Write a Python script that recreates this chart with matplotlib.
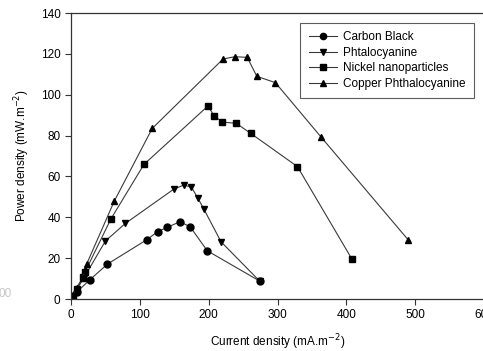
import matplotlib.pyplot as plt

plt.rcParams['font.family'] = ['Liberation Sans', 'DejaVu Sans']

# Carbon Black
cb_x = [2, 9, 27, 53, 110, 126, 140, 158, 173, 198, 274]
cb_y = [0.8, 3.6, 9.3, 17.1, 29.0, 33.0, 35.1, 37.8, 35.4, 23.6, 8.8]

# Phtalocyanine
ph_x = [3, 8, 19, 50, 79, 149, 164, 175, 184, 193, 218, 274]
ph_y = [1.5, 4.5, 10.5, 28.4, 37.0, 53.7, 55.8, 54.7, 49.6, 44.0, 28.0, 8.8]

# Nickel nanoparticles
ni_x = [3, 9, 18, 20, 58, 106, 199, 208, 220, 240, 261, 329, 408]
ni_y = [1.5, 5.0, 11.0, 13.0, 39.2, 65.9, 94.5, 89.6, 86.6, 86.0, 81.1, 64.8, 19.6]

# Copper Phthalocyanine
cu_x = [3, 8, 17, 20, 23, 63, 118, 221, 238, 256, 270, 297, 363, 490]
cu_y = [2.0, 5.5, 10.5, 14.0, 17.3, 48.0, 83.5, 117.5, 118.6, 118.3, 109.0, 105.9, 79.4, 28.9]

fig = plt.figure(figsize=(4.83, 3.51), dpi=100)
ax = fig.add_axes([71 / 483, 52 / 351, 413 / 483, 286 / 351])

line_kw = dict(color='#3a3a3a', lw=0.8, markersize=5, markerfacecolor='black',
               markeredgecolor='black')
ax.plot(cb_x, cb_y, marker='o', label='Carbon Black', **line_kw)
ax.plot(ph_x, ph_y, marker='v', label='Phtalocyanine', **line_kw)
ax.plot(ni_x, ni_y, marker='s', label='Nickel nanoparticles', **line_kw)
ax.plot(cu_x, cu_y, marker='^', label='Copper Phthalocyanine', **line_kw)

ax.set_xlim(0, 600)
ax.set_ylim(0, 140)
ax.set_xticks(range(0, 601, 100))
ax.set_yticks(range(0, 141, 20))
ax.tick_params(direction='out', length=4, width=0.8, labelsize=8.5, color='#333333')
for s in ax.spines.values():
    s.set_linewidth(0.9)
    s.set_color('#333333')

ax.set_xlabel('Current density (mA.m$^{-2}$)', fontsize=8.5, labelpad=8)
ax.set_ylabel('Power density (mW.m$^{-2}$)', fontsize=8.5, labelpad=6)

leg = ax.legend(loc='upper right', bbox_to_anchor=(0.975, 0.965), fontsize=8.5,
                frameon=True, fancybox=False, edgecolor='#333333',
                handlelength=2.4, numpoints=1, borderpad=0.7, labelspacing=0.3,
                handletextpad=0.5, borderaxespad=0)
leg.get_frame().set_linewidth(0.8)
for h in leg.legend_handles:
    h.set_markersize(4.5)

fig.text(-0.004, 0.155, '00', color='#c8c8c8', fontsize=8.5)

fig.savefig('out.png', dpi=100)
